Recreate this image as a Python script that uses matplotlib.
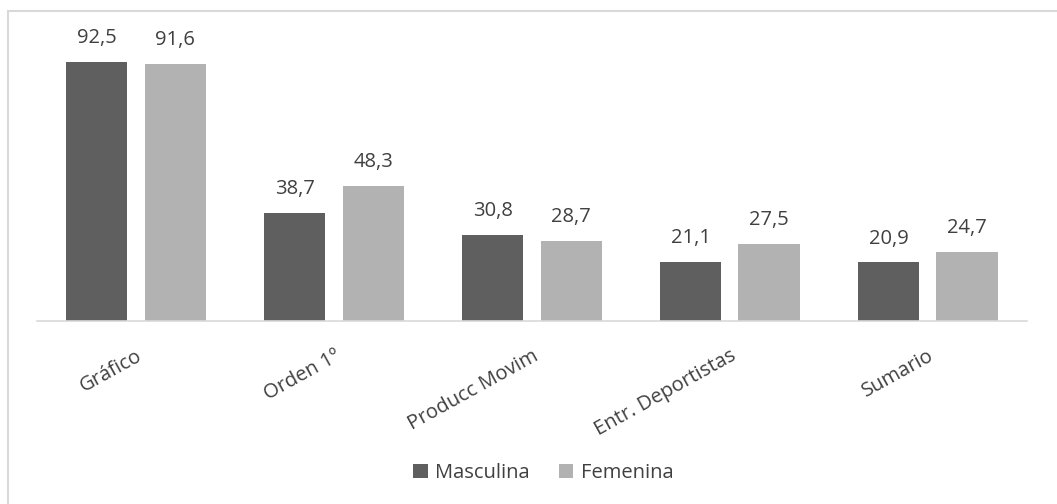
import matplotlib.pyplot as plt
import numpy as np
from matplotlib.patches import Rectangle

categories = ['Gráfico', 'Orden 1º', 'Producc Movim', 'Entr. Deportistas', 'Sumario']
masculina = [92.5, 38.7, 30.8, 21.1, 20.9]
femenina = [91.6, 48.3, 28.7, 27.5, 24.7]

plt.rcParams['font.family'] = ['Open Sans', 'DejaVu Sans']
text_color = '#404040'
fs = 14.5

fig = plt.figure(figsize=(10.57, 5.04), dpi=100)
ax = fig.add_axes([0.035, 0.363, 0.9366, 0.556])

x = np.arange(len(categories))
w = 0.31
off = 0.198
b1 = ax.bar(x - off, masculina, w, color='#5F5F5F', label='Masculina')
b2 = ax.bar(x + off, femenina, w, color='#B2B2B2', label='Femenina')

for bars, vals in [(b1, masculina), (b2, femenina)]:
    for bar, v in zip(bars, vals):
        ax.annotate(f'{v:.1f}'.replace('.', ','),
                    (bar.get_x() + bar.get_width() / 2, v),
                    xytext=(0, 10), textcoords='offset points',
                    ha='center', va='bottom', fontsize=fs, color=text_color)

ax.set_xlim(-0.5, len(categories) - 0.5)
ax.set_ylim(0, 100)
ax.set_yticks([])
ax.set_xticks(x)
ax.set_xticklabels(categories, rotation=29, ha='right', va='top',
                   rotation_mode='anchor', fontsize=fs, color=text_color)
ax.tick_params(axis='x', length=0, pad=18)
for s in ['top', 'right', 'left']:
    ax.spines[s].set_visible(False)
ax.spines['bottom'].set_color('#D9D9D9')
ax.spines['bottom'].set_linewidth(1.2)

fig.legend(loc='center', bbox_to_anchor=(0.514, 0.061), ncol=2, frameon=False,
           fontsize=fs, handlelength=0.7, handleheight=0.7, handletextpad=0.35,
           columnspacing=1.5, labelcolor=text_color)

# outer border (only top and left visible in the crop)
fig.patches.append(Rectangle((8 / 1057, -0.1), 1.2, (504 - 11) / 504 + 0.1,
                             transform=fig.transFigure, fill=False,
                             edgecolor='#D9D9D9', linewidth=1.5))

fig.savefig('out.png', dpi=100)
